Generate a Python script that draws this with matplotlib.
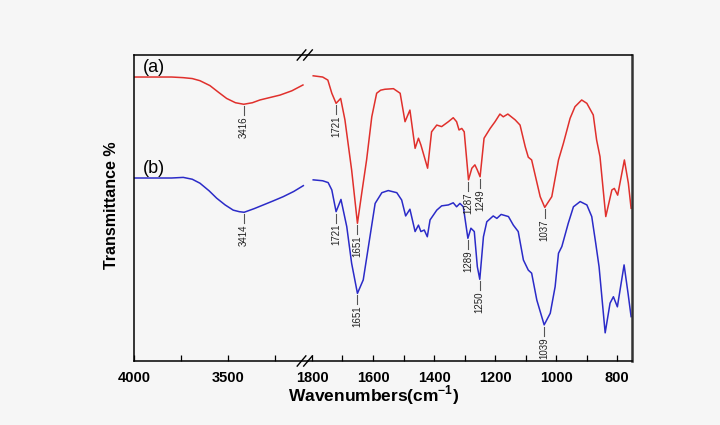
import numpy as np
import matplotlib
matplotlib.use('Agg')
import matplotlib.pyplot as plt

plt.rcParams['font.family'] = ['Liberation Sans', 'DejaVu Sans']
plt.rcParams['mathtext.fontset'] = 'custom'
plt.rcParams['mathtext.rm'] = 'Liberation Sans'
plt.rcParams['mathtext.bf'] = 'Liberation Sans:bold'

# spectrum (a), high-wavenumber part
wn_a_hi = [4000, 3800, 3739, 3690, 3649, 3596, 3550, 3507, 3460, 3416, 3370,
           3330, 3270, 3223, 3160, 3101]
t_a_hi = [92.8, 92.8, 92.6, 92.3, 91.6, 90.0, 87.8, 85.8, 84.4, 83.9, 84.4,
          85.3, 86.2, 86.9, 88.3, 90.2]
# spectrum (b), high-wavenumber part
wn_b_hi = [4000, 3800, 3738, 3690, 3649, 3600, 3560, 3515, 3472, 3440, 3414,
           3360, 3312, 3260, 3206, 3150, 3099]
t_b_hi = [59.8, 59.8, 60.0, 59.4, 58.1, 55.6, 53.2, 51.0, 49.3, 48.8, 48.6,
          49.8, 51.0, 52.3, 53.7, 55.4, 57.3]

# spectrum (a), fingerprint part
wn_a = [1796, 1765, 1748, 1735, 1721, 1706, 1692, 1670, 1651, 1637, 1621, 1604,
        1588, 1575, 1561, 1533, 1511, 1495, 1479, 1462, 1451, 1443, 1421, 1408,
        1391, 1375, 1353, 1337, 1326, 1318, 1309, 1301, 1287, 1276, 1266, 1258,
        1249, 1236, 1216, 1200, 1184, 1173, 1158, 1134, 1118, 1101, 1091, 1080,
        1052, 1037, 1014, 992, 976, 954, 938, 916, 899, 878, 867, 856, 837, 817,
        809, 798, 776, 763, 754]
t_a = [93.2, 92.8, 91.8, 87.5, 84.2, 85.8, 78.8, 62.4, 45.0, 54.8, 65.7, 79.8,
       87.5, 88.5, 88.8, 89.0, 87.5, 78.2, 82.0, 69.5, 72.8, 70.6, 63.0, 74.9,
       77.1, 76.6, 78.2, 79.5, 78.2, 75.5, 76.0, 74.9, 59.2, 63.0, 64.1, 62.4,
       60.2, 72.8, 76.0, 78.2, 80.7, 79.8, 80.7, 78.8, 77.1, 70.0, 66.6, 65.7,
       53.7, 50.2, 53.7, 65.7, 71.1, 79.3, 83.1, 85.3, 84.2, 80.4, 72.2, 66.8,
       47.2, 55.9, 56.4, 54.2, 65.7, 58.1, 49.9]

# spectrum (b), fingerprint part
wn_b = [1796, 1765, 1747, 1735, 1721, 1705, 1686, 1670, 1651, 1632, 1610, 1593,
        1571, 1550, 1522, 1506, 1493, 1479, 1462, 1451, 1443, 1432, 1422, 1413,
        1391, 1375, 1353, 1337, 1326, 1315, 1304, 1289, 1279, 1268, 1258, 1250,
        1238, 1227, 1206, 1194, 1180, 1156, 1140, 1124, 1107, 1091, 1080, 1063,
        1039, 1019, 1003, 992, 981, 960, 943, 921, 899, 883, 870, 859, 839, 823,
        812, 799, 777, 764, 754]
t_b = [59.2, 58.9, 58.3, 55.9, 48.8, 52.8, 43.9, 31.9, 22.1, 26.5, 40.6, 51.5,
       55.0, 55.7, 55.0, 52.6, 47.4, 49.6, 42.3, 44.4, 42.3, 42.8, 40.6, 46.1,
       49.3, 50.7, 51.0, 51.7, 50.4, 51.5, 50.4, 40.1, 43.4, 42.3, 30.8, 26.7,
       40.6, 45.5, 47.4, 46.6, 47.9, 47.2, 44.4, 42.3, 33.0, 29.7, 28.7, 19.9,
       11.8, 15.6, 24.3, 35.2, 37.4, 45.0, 50.4, 52.1, 51.0, 47.2, 38.5, 30.8,
       9.2, 18.9, 21.0, 17.7, 31.4, 22.1, 14.5]

peaks_a_hi = [3416]
peaks_b_hi = [3414]
peaks_a = [1721, 1651, 1287, 1249, 1037]
peaks_b = [1721, 1651, 1289, 1250, 1039]

red = '#e0302c'
blue = '#2b2bc8'
bg = '#f6f6f6'

fig = plt.figure(figsize=(7.2, 4.25), dpi=100, facecolor=bg)
ax1 = fig.add_axes([0.1861, 0.1506, 0.2417, 0.72], facecolor=bg)
ax2 = fig.add_axes([0.4278, 0.1506, 0.45, 0.72], facecolor=bg)

ax1.plot(wn_a_hi, t_a_hi, color=red, lw=1.1)
ax1.plot(wn_b_hi, t_b_hi, color=blue, lw=1.1)
ax2.plot(wn_a, t_a, color=red, lw=1.1)
ax2.plot(wn_b, t_b, color=blue, lw=1.1)

ax1.set_xlim(4000, 3074)
ax2.set_xlim(1813, 751)
ax1.set_xticks([4000, 3500])
ax1.set_xticks([3750, 3250], minor=True)
ax2.set_xticks([1800, 1600, 1400, 1200, 1000, 800])
ax2.set_xticks([1700, 1500, 1300, 1100, 900], minor=True)
for ax in (ax1, ax2):
    ax.set_ylim(0, 100)
    ax.set_yticks([])
    ax.tick_params(axis='x', which='both', direction='in', length=4, width=0.9,
                   pad=7, labelsize=10.5)
    for lab in ax.get_xticklabels():
        lab.set_fontweight('bold')
    for s in ax.spines.values():
        s.set_linewidth(1.1)
ax1.spines['right'].set_visible(False)
ax2.spines['left'].set_visible(False)
ax2.spines['right'].set_linewidth(1.8)
ax2.spines['right'].set_color('#333333')


def mark(ax, wn, t, peaks):
    for p in peaks:
        y = np.interp(p, wn[::-1], t[::-1])
        ax.plot([p, p], [y - 0.6, y - 3.6], color='#555555', lw=0.8)
        ax.text(p, y - 4.0, str(p), rotation=90, ha='center', va='top',
                fontsize=7, color='#222222')


mark(ax1, wn_a_hi, t_a_hi, peaks_a_hi)
mark(ax1, wn_b_hi, t_b_hi, peaks_b_hi)
mark(ax2, wn_a, t_a, peaks_a)
mark(ax2, wn_b, t_b, peaks_b)

ax1.text(3955, 95.8, '(a)', fontsize=13, va='center')
ax1.text(3955, 63.0, '(b)', fontsize=13, va='center')

# break marks on the axis
xb = 308 / 720
for yb in (1 - 55 / 425, 1 - 361 / 425):
    for dx in (-0.009, 0.0):
        fig.add_artist(plt.Line2D([xb + dx - 0.006, xb + dx + 0.006],
                                  [yb - 0.012, yb + 0.012],
                                  color='black', lw=1.0))

fig.text(374 / 720, 1 - 395 / 425, 'Wavenumbers(cm$^{\\mathbf{-1}}$)',
         fontsize=12.5, fontweight='bold', ha='center', va='center')
fig.text(111 / 720, 1 - 205 / 425, 'Transmittance %', fontsize=11.5,
         fontweight='bold', rotation=90, ha='center', va='center')

fig.savefig('out.png', dpi=100, facecolor=bg)
